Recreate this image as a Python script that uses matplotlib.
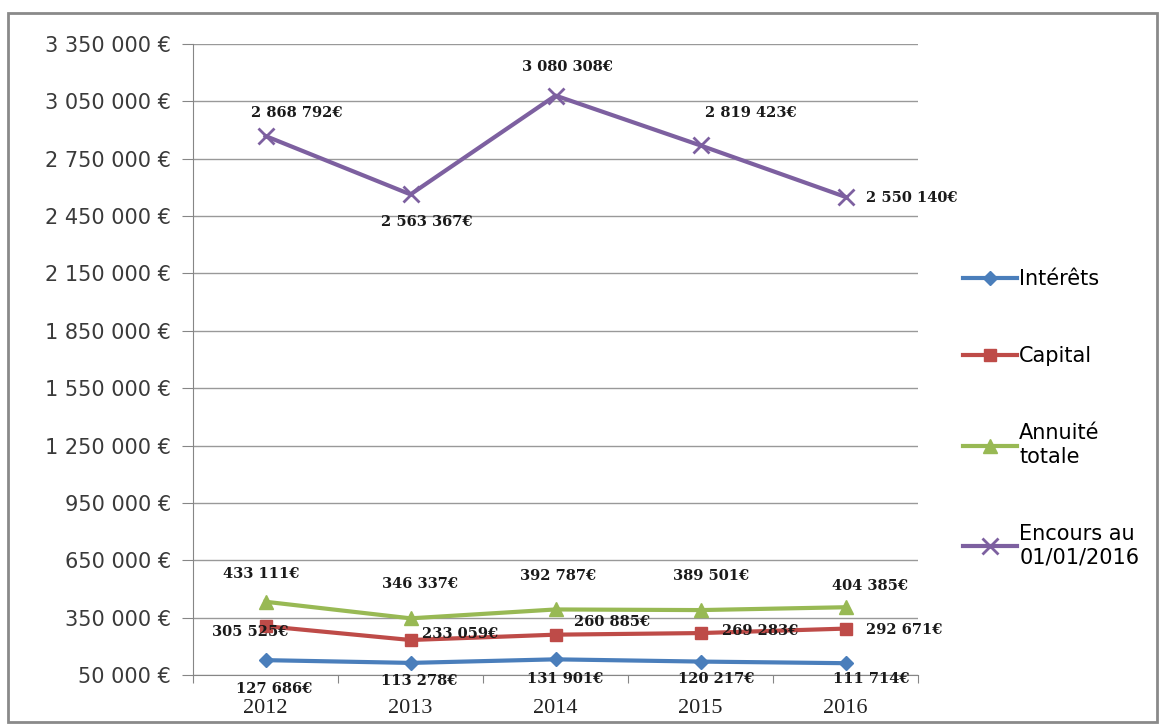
import matplotlib.pyplot as plt
from matplotlib.patches import Rectangle

years = ["2012", "2013", "2014", "2015", "2016"]
interets = [127686, 113278, 131901, 120217, 111714]
capital = [305525, 233059, 260885, 269283, 292671]
annuite = [433111, 346337, 392787, 389501, 404385]
encours = [2868792, 2563367, 3080308, 2819423, 2550140]

series_names = ["Intérêts", "Capital", "Annuité\ntotale", "Encours au\n01/01/2016"]

# label placement (pixel offsets from the point, image y-down) + alignment
label_pos = [
    [(9, 29, "center"), (9, 18, "center"), (10, 20, "center"), (16, 17, "center"), (26, 16, "center")],
    [(-15, 6, "center"), (12, -6, "left"), (18, -13, "left"), (21, -2, "left"), (21, 1, "left")],
    [(-4, -28, "center"), (9, -34, "center"), (3, -33, "center"), (11, -34, "center"), (25, -21, "center")],
    [(31, -23, "center"), (16, 28, "center"), (12, -29, "center"), (50, -32, "center"), (21, 1, "left")],
]
colors = ["#4A7EBB", "#BE4B48", "#98B954", "#7D60A0"]
markers = ["D", "s", "^", "x"]
msizes = [7, 9, 10, 12]


def euro(v):
    return f"{v:,.0f}".replace(",", " ")


fig = plt.figure(figsize=(11.62, 7.24), dpi=100)
ax = fig.add_axes([193 / 1162, 49 / 724, 725 / 1162, 631 / 724])

x = list(range(len(years)))
lines = []
for vals, name, c, m, ms, pos in zip([interets, capital, annuite, encours], series_names,
                                      colors, markers, msizes, label_pos):
    ln, = ax.plot(x, vals, color=c, lw=3, marker=m, ms=ms, mew=2 if m == "x" else 1,
                  mec=c, mfc=c, label=name, zorder=3)
    lines.append(ln)
    for xi, v, (dx, dy, ha) in zip(x, vals, pos):
        ax.annotate(euro(v) + "€", (xi, v), xytext=(dx, -dy), textcoords="offset pixels",
                    ha=ha, va="center", fontsize=10.5, fontweight="bold",
                    family="DejaVu Serif", color="#1a1a1a", zorder=4)

ax.set_xlim(-0.5, 4.5)
ax.set_ylim(50000, 3350000)
yt = list(range(50000, 3350001, 300000))
ax.set_yticks(yt)
ax.set_yticklabels([euro(v) + " €" for v in yt], family="DejaVu Sans", fontsize=15, color="#3a3a3a")
ax.set_xticks([i - 0.5 for i in range(6)])
ax.set_xticklabels([])
ax.set_xticks(x, minor=True)
ax.set_xticklabels(years, minor=True, family="Liberation Serif", fontsize=16, color="#222222")
ax.tick_params(axis="x", which="minor", length=0, pad=17)
ax.tick_params(axis="x", which="major", length=6, color="#868686", direction="out")
ax.tick_params(axis="y", length=8, color="#868686", pad=8)

ax.grid(axis="y", color="#999999", lw=1)
ax.set_axisbelow(True)
for s in ["top", "right"]:
    ax.spines[s].set_visible(False)
ax.spines["left"].set_color("#868686")
ax.spines["bottom"].set_color("#868686")

fig.legend(handles=lines, loc="center left", bbox_to_anchor=(963 / 1162, 1 - 418 / 724),
           frameon=False, prop={"family": "DejaVu Sans", "size": 15}, handlelength=2.6,
           handletextpad=0.1, labelspacing=2.75, borderpad=0, borderaxespad=0)

fig.patches.append(Rectangle((8 / 1162, 2 / 724), 1149 / 1162, 709 / 724, transform=fig.transFigure,
                             fill=False, ec="#8a8a8a", lw=2))

fig.savefig("out.png", dpi=100)
